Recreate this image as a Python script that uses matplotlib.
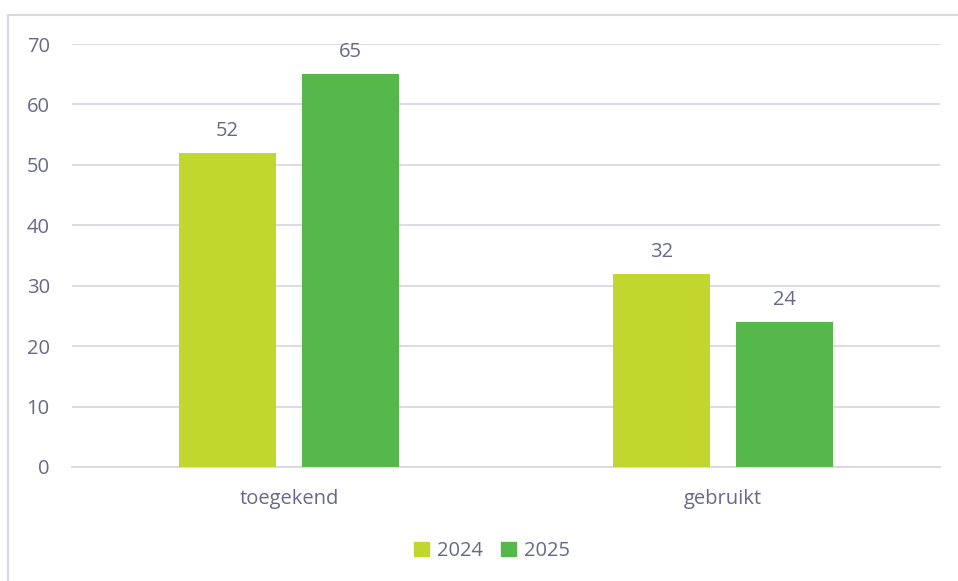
import matplotlib.pyplot as plt
import numpy as np
from matplotlib.patches import Patch

categories = ["toegekend", "gebruikt"]
years = ["2024", "2025"]
values_2024 = [52, 32]
values_2025 = [65, 24]

colors = ["#c2d72e", "#56b84a"]
text_color = "#68688a"
grid_color = "#d9d9e2"

plt.rcParams["font.family"] = ["Open Sans", "DejaVu Sans"]
fs = 14.5

fig = plt.figure(figsize=(9.58, 5.81), dpi=100)
ax = fig.add_axes([72 / 958, 1 - 467 / 581, (940 - 72) / 958, (467 - 44) / 581])

x = np.arange(len(categories))
width = 0.2235
offset = 0.1418
for vals, off, col in [(values_2024, -offset, colors[0]), (values_2025, offset, colors[1])]:
    bars = ax.bar(x + off, vals, width, color=col, zorder=3)
    for b, v in zip(bars, vals):
        ax.text(b.get_x() + b.get_width() / 2, v + 2.0, str(v),
                ha="center", va="bottom", fontsize=fs, color=text_color)

ax.set_xlim(-0.5, 1.5)
ax.set_ylim(0, 70)
ax.set_yticks(range(0, 71, 10))
ax.yaxis.grid(True, color=grid_color, lw=1.3, zorder=0)
ax.set_axisbelow(True)
for s in ["top", "right", "left"]:
    ax.spines[s].set_visible(False)
ax.spines["bottom"].set_color(grid_color)
ax.spines["bottom"].set_linewidth(1.3)
ax.set_xticks(x)
ax.set_xticklabels(categories)
ax.tick_params(axis="both", length=0, labelsize=fs, labelcolor=text_color)
ax.tick_params(axis="y", pad=16)
ax.tick_params(axis="x", pad=16)

handles = [Patch(color=c, label=y) for c, y in zip(colors, years)]
fig.legend(handles=handles, loc="center", bbox_to_anchor=(492 / 958, 1 - 551 / 581),
           ncol=2, frameon=False, fontsize=fs, labelcolor=text_color,
           handlelength=0.75, handleheight=0.75, handletextpad=0.4, columnspacing=0.9)

# outer chart frame (left and top edges visible)
fig.add_artist(plt.Line2D([8 / 958, 8 / 958], [0, 1 - 15 / 581], color="#d9d9e2", lw=1.5,
                          transform=fig.transFigure))
fig.add_artist(plt.Line2D([8 / 958, 1], [1 - 15 / 581, 1 - 15 / 581], color="#d9d9e2", lw=1.5,
                          transform=fig.transFigure))

fig.savefig("out.png", dpi=100)
